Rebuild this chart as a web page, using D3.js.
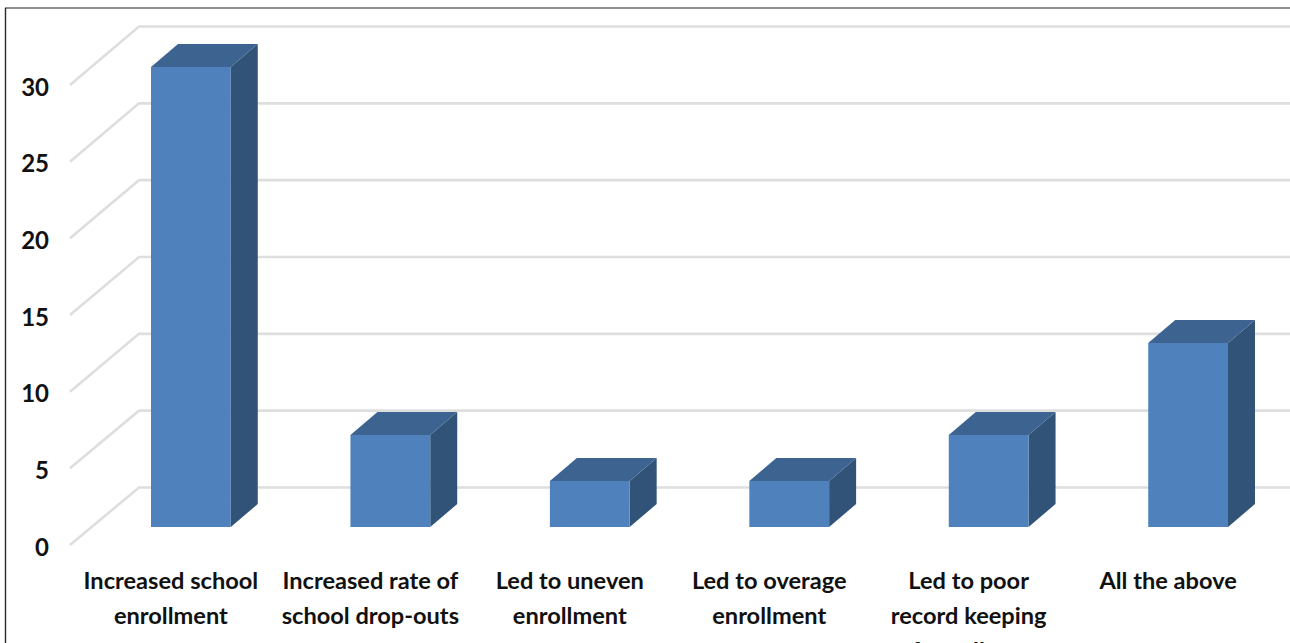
<!DOCTYPE html>
<html>
<head>
<meta charset="utf-8">
<script src="https://cdnjs.cloudflare.com/ajax/libs/d3/7.8.5/d3.min.js"></script>
<style>
  html, body { margin: 0; padding: 0; background: #fff; overflow: hidden; }
  svg { display: block; }
  text { font-family: Lato, "Open Sans", sans-serif; font-weight: 700; fill: #111; }
</style>
</head>
<body>
<svg id="chart" width="1290" height="643"></svg>
<script>
// Survey responses, one bar per answer
const categories = [
  ["Increased school", "enrollment"],
  ["Increased rate of", "school drop-outs"],
  ["Led to uneven", "enrollment"],
  ["Led to overage", "enrollment"],
  ["Led to poor", "record keeping", "of enrollment"],
  ["All the above"]
];
const responses = [30, 6, 3, 3, 6, 12];
const yTicks = [0, 5, 10, 15, 20, 25, 30];

const colors = { front: "#4f81bd", top: "#3d6491", side: "#315378", grid: "#dedede", frameTop: "#6a6a6a", frameLeft: "#2a2a2a" };

const svg = d3.select("#chart");

// Three value scales: the front edge of the floor, the back wall, and the bars' front face
const yFront = d3.scaleLinear().domain([0, 30]).range([545, 85]);
const yWall  = d3.scaleLinear().domain([0, 30]).range([487.5, 26.5]);
const yBar   = d3.scaleLinear().domain([0, 30]).range([527, 67]);

const x = d3.scaleBand()
  .domain(d3.range(categories.length))
  .range([151, 1228])
  .paddingInner(0.6)
  .paddingOuter(0);

const wallLeft = 139, floorLeft = 70, wallRight = 1290;
const depthX = 27, depthY = 23;

// Frame around the plot: a grey top rule and a darker left rule
svg.append("line").attr("x1", 5).attr("x2", 1290).attr("y1", 8).attr("y2", 8)
  .attr("stroke", colors.frameTop).attr("stroke-width", 1.6);
svg.append("line").attr("x1", 5.5).attr("x2", 5.5).attr("y1", 8).attr("y2", 643)
  .attr("stroke", colors.frameLeft).attr("stroke-width", 1.4);

// Gridlines: slanted on the side wall, flat along the back wall
svg.append("g").selectAll("polyline")
  .data(yTicks)
  .join("polyline")
  .attr("points", d => [[floorLeft, yFront(d)], [wallLeft, yWall(d)], [wallRight, yWall(d)]].join(" "))
  .attr("fill", "none")
  .attr("stroke", colors.grid)
  .attr("stroke-width", 2.6);

// Bars as three faces of a box
const bars = svg.append("g").selectAll("g")
  .data(responses)
  .join("g");

const barPoints = {
  side: (d, i) => {
    const r = x(i) + x.bandwidth();
    return [[r, yBar(d)], [r + depthX, yBar(d) - depthY], [r + depthX, yBar(0) - depthY], [r, yBar(0)]].join(" ");
  },
  top: (d, i) => {
    const l = x(i), r = l + x.bandwidth();
    return [[l, yBar(d)], [l + depthX, yBar(d) - depthY], [r + depthX, yBar(d) - depthY], [r, yBar(d)]].join(" ");
  }
};

bars.append("polygon").attr("points", barPoints.side).attr("fill", colors.side);
bars.append("polygon").attr("points", barPoints.top).attr("fill", colors.top);
bars.append("rect")
  .attr("x", (d, i) => x(i))
  .attr("y", d => yBar(d))
  .attr("width", x.bandwidth())
  .attr("height", d => yBar(0) - yBar(d))
  .attr("fill", colors.front);

// Value axis labels
const yAxis = d3.axisLeft(yFront).tickValues(yTicks).tickSize(0).tickPadding(0);
const axisG = svg.append("g").attr("transform", "translate(49,1.5)").call(yAxis);
axisG.select(".domain").remove();
axisG.selectAll("text")
  .attr("font-size", 24)
  .attr("dy", "0.36em")
  .style("font-family", "Lato, sans-serif")
  .style("font-weight", 700)
  .style("fill", "#111");

// Category labels, one tspan per line
const labelOffset = -20, firstBaseline = 589, lineStep = 35;
svg.append("g").selectAll("text")
  .data(categories)
  .join("text")
  .attr("text-anchor", "middle")
  .attr("font-size", 23.6)
  .attr("y", firstBaseline)
  .each(function (lines, i) {
    const cx = x(i) + x.bandwidth() / 2 + labelOffset;
    d3.select(this).selectAll("tspan")
      .data(lines)
      .join("tspan")
      .attr("x", cx)
      .attr("y", (l, k) => firstBaseline + k * lineStep)
      .text(l => l);
  });
</script>
</body>
</html>
